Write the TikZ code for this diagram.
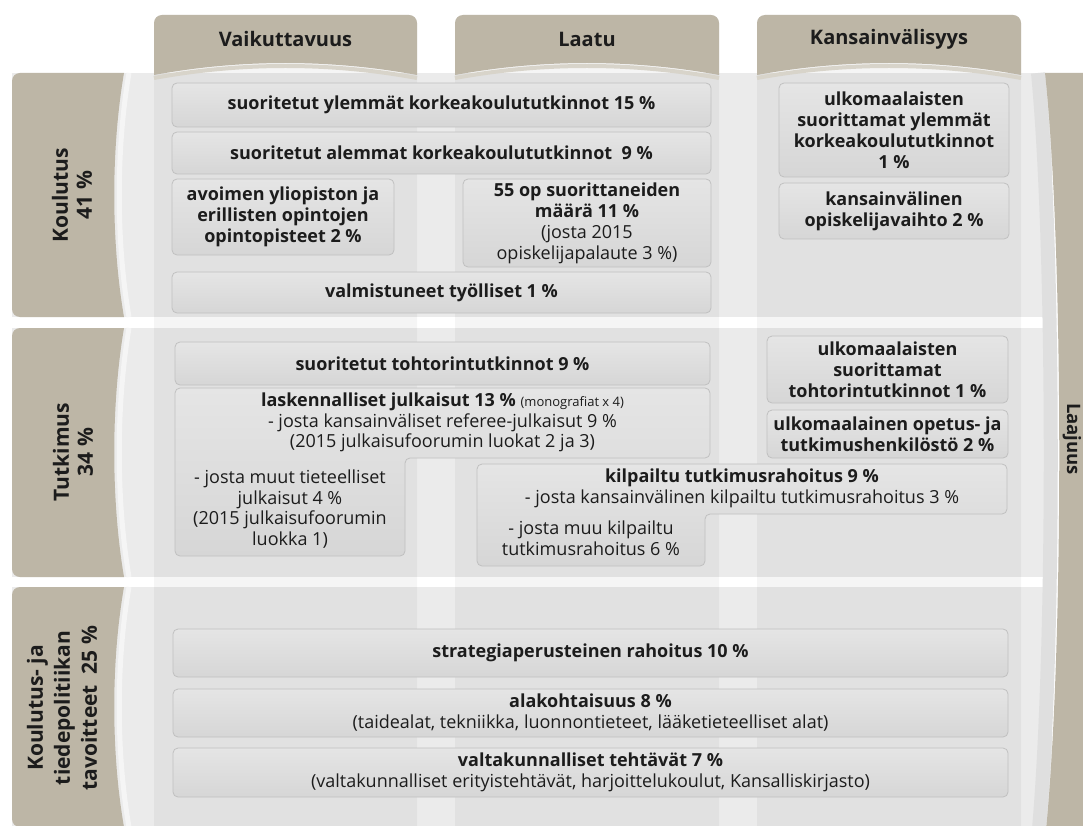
\documentclass[tikz,border=0pt]{standalone}
\usepackage{fontspec}
\setmainfont{Open Sans}
\definecolor{tabc}{RGB}{189,182,166}
\definecolor{rowbg}{RGB}{235,235,235}
\definecolor{boxtop}{RGB}{229,229,229}
\definecolor{boxbot}{RGB}{214,214,214}
\definecolor{boxline}{RGB}{192,192,192}
\definecolor{txt}{RGB}{28,28,28}
\definecolor{tabhl}{RGB}{216,212,202}
\definecolor{rowhl}{RGB}{245,245,245}
\definecolor{edgeband}{RGB}{223,223,223}
\tikzset{
  boxfill/.style={rounded corners=5pt, top color=boxtop, bottom color=boxbot, draw=boxline, line width=0.8pt},
  itembox/.style={boxfill, inner sep=0pt, text=txt, align=center, font=\fontsize{18}{21}\selectfont},
  bitembox/.style={itembox, font=\bfseries\fontsize{18}{21}\selectfont},
  itemtxt/.style={inner sep=0pt, text=txt, align=center, font=\fontsize{18}{20.5}\selectfont},
  headtxt/.style={inner sep=0pt, text=txt, font=\bfseries\fontsize{20}{24}\selectfont},
  sidetxt/.style={inner sep=0pt, text=txt, align=center, rotate=90, font=\bfseries\fontsize{21}{24}\selectfont},
}
\begin{document}
\begin{tikzpicture}[x=1pt,y=-1pt]
\useasboundingbox (0,0) rectangle (1083,826);
\clip (0,0) rectangle (1083,826);
\fill[white] (0,0) rectangle (1083,826);
% row bands
\fill[rowbg] (12,73) rectangle (1052,317);
\fill[rowbg] (12,328) rectangle (1052,577);
\fill[rowbg] (12,587) rectangle (1052,840);
% columns
\foreach \a/\b in {154/417,455/719,757/1021}
  \fill[black, fill opacity=0.04, rounded corners=8pt] (\a,15) rectangle (\b,860);
% column tabs
\foreach \a/\b in {154/417,455/719,757/1021}{
  \begin{scope}
    \clip (\a,0) -- (\a,75) .. controls ({\a+0.33*(\b-\a)},59) and ({\a+0.67*(\b-\a)},59) .. (\b,75) -- (\b,0) -- cycle;
    \fill[tabc, rounded corners=8pt] (\a,15) rectangle (\b,110);
  \end{scope}
  \draw[tabhl, line width=4pt] (\a,78) .. controls ({\a+0.33*(\b-\a)},62) and ({\a+0.67*(\b-\a)},62) .. (\b,78);
}
% row tabs
\foreach \t/\bt in {73/317,328/577,587/827}{
  \begin{scope}
    \clip (0,\t) -- (124,\t) .. controls (111,{\t+0.31*(\bt-\t)}) and (111,{\t+0.69*(\bt-\t)}) .. (124,\bt) -- (0,\bt) -- cycle;
    \fill[tabc, rounded corners=8pt] (12,\t) rectangle (160,\bt);
  \end{scope}
  \draw[rowhl, line width=5pt] (129,\t) .. controls (116,{\t+0.31*(\bt-\t)}) and (116,{\t+0.69*(\bt-\t)}) .. (129,\bt);
}
% Laajuus tab
\draw[edgeband, line width=14pt] (1038,73) .. controls (1055,250) and (1055,660) .. (1038,840);
\begin{scope}
  \clip (1045,73) .. controls (1064,250) and (1064,660) .. (1045,840) -- (1100,840) -- (1100,73) -- cycle;
  \fill[tabc, rounded corners=8pt] (1000,73) rectangle (1100,860);
\end{scope}

% headers
\node[headtxt] (hv) at (285.5,39) {Vaikuttavuus};
\node[headtxt] (hl) at (587,39) {Laatu};
\node[headtxt] (hk) at (889,39) {Kansainvälisyys};
\node[sidetxt] (sk) at (72,195) {Koulutus\\41~\%};
\node[sidetxt] (st) at (73,452) {Tutkimus\\34~\%};
\node[sidetxt, font=\bfseries\fontsize{21}{27}\selectfont] (sp) at (62,708) {Koulutus- ja\\tiedepolitiikan\\tavoitteet\ \ 25~\%};
\node[inner sep=0pt, text=txt, rotate=-90, anchor=base, font=\bfseries\fontsize{18.5}{22}\selectfont] (la) at (1067,439) {Laajuus};

% row 1: Koulutus
\node[bitembox, minimum width=539pt, minimum height=44pt] (a1) at (441.5,105) {suoritetut ylemmät korkeakoulututkinnot 15~\%};
\node[bitembox, minimum width=539pt, minimum height=42pt] (a2) at (441.5,153) {suoritetut alemmat korkeakoulututkinnot\ \ 9~\%};
\node[bitembox, minimum width=222pt, minimum height=76pt] (a3) at (283,217) {avoimen yliopiston ja\\erillisten opintojen\\opintopisteet 2~\%};
\node[itembox, minimum width=248pt, minimum height=88pt] (a4) at (587,223) {\textbf{55 op suorittaneiden}\\\textbf{määrä 11~\%}\\(josta 2015\\opiskelijapalaute 3~\%)};
\node[bitembox, minimum width=539pt, minimum height=41pt] (a5) at (441.5,292.5) {valmistuneet työlliset 1~\%};
\node[bitembox, minimum width=230pt, minimum height=94pt] (a6) at (894,130) {ulkomaalaisten\\suorittamat ylemmät\\korkeakoulututkinnot\\1~\%};
\node[bitembox, minimum width=230pt, minimum height=56pt] (a7) at (894,211) {kansainvälinen\\opiskelijavaihto 2~\%};

% row 2: Tutkimus
\node[bitembox, minimum width=535pt, minimum height=43pt] (b1) at (442.5,363.5) {suoritetut tohtorintutkinnot 9~\%};
\path[boxfill] (175,388) -- (710,388) -- (710,458) -- (405,458) -- (405,556) -- (175,556) -- cycle;
\node[itemtxt] (b2) at (442.5,422.5) {\textbf{laskennalliset julkaisut 13~\%} {\fontsize{13}{15}\selectfont(monografiat x 4)}\\- josta kansainväliset referee-julkaisut 9~\%\\(2015 julkaisufoorumin luokat 2 ja 3)};
\node[itemtxt] (b3) at (290,509) {- josta muut tieteelliset\\julkaisut 4~\%\\(2015 julkaisufoorumin\\luokka 1)};
\node[bitembox, minimum width=241pt, minimum height=67pt] (b4) at (887.5,369.5) {ulkomaalaisten\\suorittamat\\tohtorintutkinnot 1~\%};
\node[bitembox, minimum width=241pt, minimum height=48pt] (b5) at (887.5,434) {ulkomaalainen opetus- ja\\tutkimushenkilöstö 2~\%};
\path[boxfill] (477,464) -- (1007,464) -- (1007,514) -- (705,514) -- (705,566) -- (477,566) -- cycle;
\node[itemtxt] (b6) at (742,488.5) {\textbf{kilpailtu tutkimusrahoitus 9~\%}\\- josta kansainvälinen kilpailtu tutkimusrahoitus 3~\%};
\node[itemtxt] (b7) at (591,538) {- josta muu kilpailtu\\tutkimusrahoitus 6~\%};

% row 3
\node[bitembox, minimum width=835pt, minimum height=48pt] (c1) at (590.5,653) {strategiaperusteinen rahoitus 10~\%};
\node[itembox, minimum width=835pt, minimum height=48pt] (c2) at (590.5,713) {\textbf{alakohtaisuus 8~\%}\\(taidealat, tekniikka, luonnontieteet, lääketieteelliset alat)};
\node[itembox, minimum width=835pt, minimum height=49pt] (c3) at (590.5,772.5) {\textbf{valtakunnalliset tehtävät 7~\%}\\(valtakunnalliset erityistehtävät, harjoittelukoulut, Kansalliskirjasto)};
\end{tikzpicture}
\end{document}
